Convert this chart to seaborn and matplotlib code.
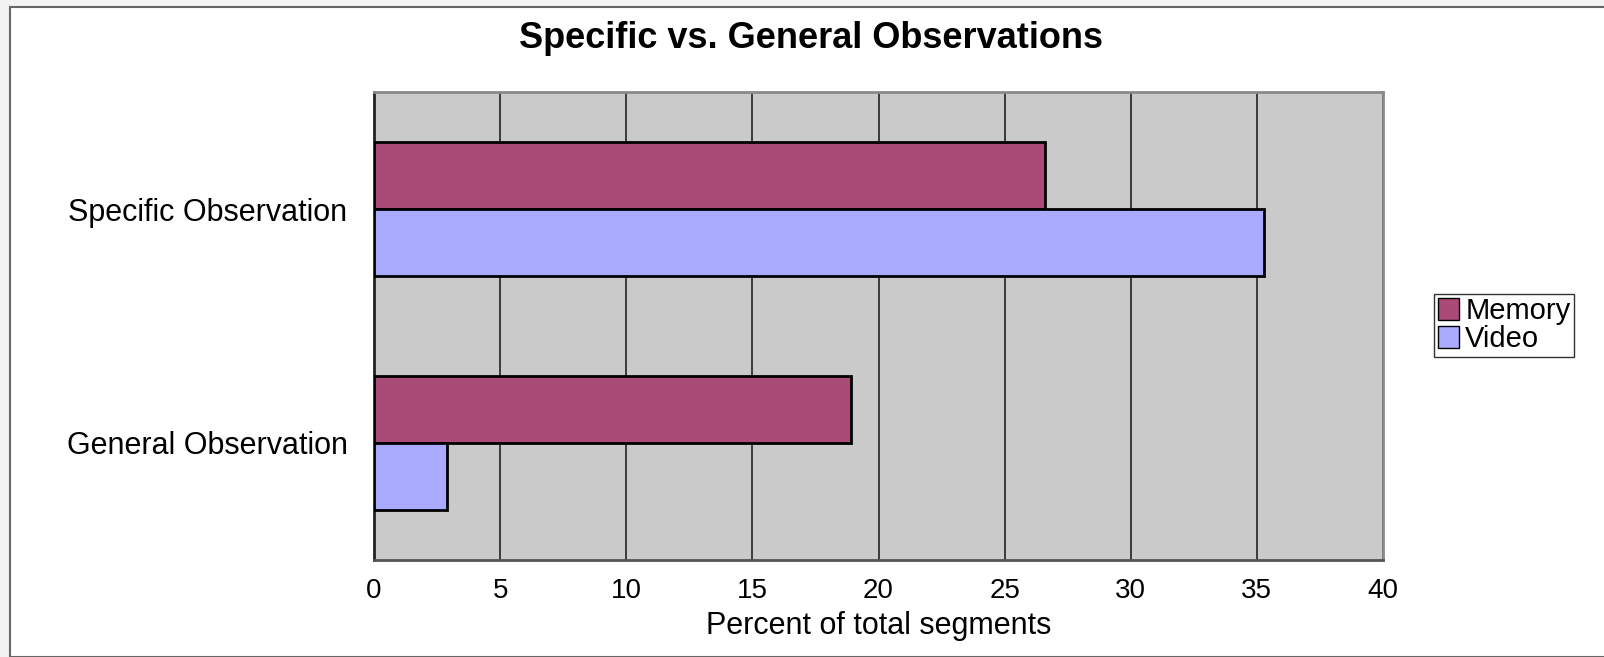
import matplotlib
matplotlib.use("Agg")
import matplotlib.pyplot as plt
from matplotlib.patches import Rectangle
import seaborn as sns
import pandas as pd

categories = ["Specific Observation", "General Observation"]
series = ["Memory", "Video"]
memory_values = [26.6, 18.9]
video_values = [35.3, 2.9]
x_ticks = [0, 5, 10, 15, 20, 25, 30, 35, 40]

df = pd.DataFrame({
    "category": categories * 2,
    "series": [series[0]] * len(categories) + [series[1]] * len(categories),
    "value": memory_values + video_values,
})

sns.set_theme(style="white")
plt.rcParams["font.family"] = ["Liberation Sans", "DejaVu Sans"]

fig = plt.figure(figsize=(16.04, 6.57), dpi=100, facecolor="#f2f2f2")
W, H = 1604, 657
fig.patches.append(Rectangle((10 / W, 0), 1.0, 1 - 7 / H, transform=fig.transFigure,
                             facecolor="white", edgecolor="#666666", lw=1.5, zorder=-5))

L, R, T, B = 374, 1383, 92, 560
ax = fig.add_axes([L / W, 1 - B / H, (R - L) / W, (B - T) / H])
ax.set_facecolor("#cacaca")

palette = {"Memory": "#aa4a76", "Video": "#aaaaff"}
sns.barplot(data=df, x="value", y="category", hue="series", order=categories,
            hue_order=series, palette=palette, orient="h", width=0.57,
            edgecolor="black", linewidth=2, saturation=1, ax=ax, zorder=3)

ax.set_xlim(0, 40)
ax.set_ylim(1.5, -0.5)
ax.set_xticks(x_ticks)
ax.set_xticklabels([str(t) for t in x_ticks], fontsize=20)
ax.xaxis.grid(True, color="#222222", lw=1.2, zorder=1)
ax.set_axisbelow(True)
ax.tick_params(axis="x", direction="out", length=5, width=1.2, color="#333333", pad=8)

ax.set_yticks([0, 1])
ax.set_yticklabels(categories, fontsize=22)
ax.tick_params(axis="y", which="major", length=0, pad=19)
ax.set_yticks([-0.5, 0.5, 1.5], minor=True)
ax.tick_params(axis="y", which="minor", direction="out", length=6, width=1.2, color="#555555")

ax.set_xlabel("Percent of total segments", fontsize=22, labelpad=5)
ax.set_ylabel("")

for side in ["top", "right"]:
    ax.spines[side].set_color("#8a8a8a")
    ax.spines[side].set_linewidth(2)
ax.spines["left"].set_color("#222222")
ax.spines["left"].set_linewidth(2)
ax.spines["bottom"].set_color("#555555")
ax.spines["bottom"].set_linewidth(2)

fig.text(811 / W, 1 - 38 / H, "Specific vs. General Observations", ha="center", va="center",
         fontsize=26, fontweight="bold", color="black")

leg = ax.legend(loc="center left", bbox_to_anchor=(1434 / W, 1 - 325 / H),
                bbox_transform=fig.transFigure, frameon=True, fancybox=False,
                fontsize=21, handlelength=0.75, handleheight=0.75, handletextpad=0.2,
                borderpad=0.12, labelspacing=0.0, borderaxespad=0)
leg.get_frame().set_edgecolor("black")
leg.get_frame().set_linewidth(1)
for h in leg.legend_handles:
    h.set_edgecolor("black")
    h.set_linewidth(1)
for t in ax.get_xticklabels() + ax.get_yticklabels() + leg.get_texts():
    t.set_color("black")
ax.xaxis.label.set_color("black")

fig.savefig("out.png", dpi=100, facecolor=fig.get_facecolor())
